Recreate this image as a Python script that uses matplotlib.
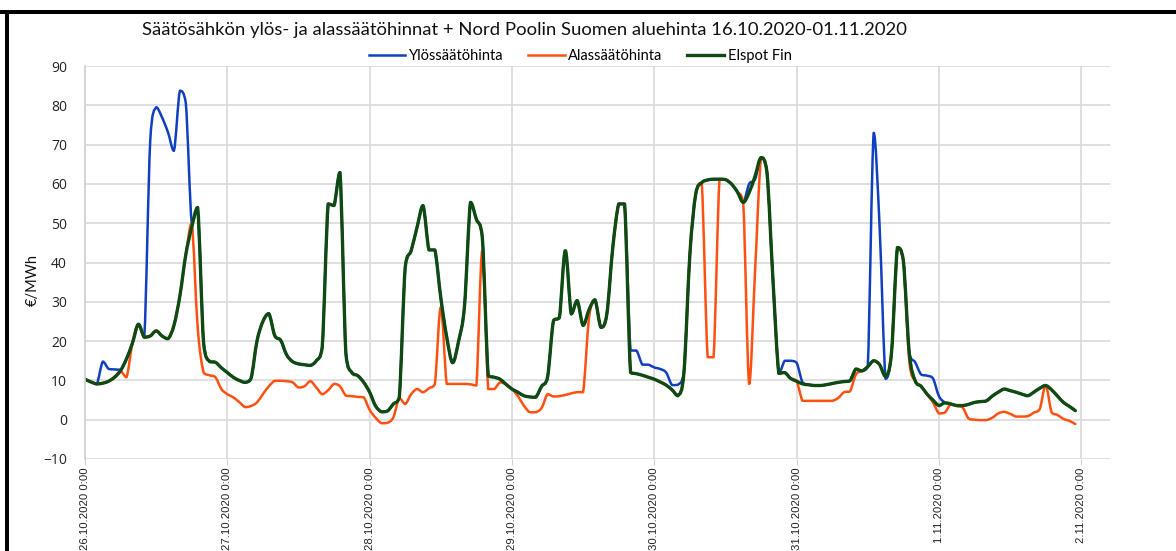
import numpy as np
import matplotlib
matplotlib.use("Agg")
import matplotlib.pyplot as plt
from matplotlib.patches import Rectangle, PathPatch
from matplotlib.path import Path
from matplotlib.lines import Line2D

# hourly prices 26.10.2020 0:00 -> 1.11.2020 23:00 (EUR/MWh)
ylos = [
    10.3, 9.6, 9.1, 14.8, 12.9, 12.8, 12.7, 15.5, 19.5, 24.3, 21.0, 71.0, 79.5, 76.9, 73.1, 68.4, 83.7, 80.6, 50.0, 54.0, 19.5, 14.8, 14.6, 13.2,
    12.0, 10.8, 10.0, 9.5, 10.5, 20.0, 25.0, 27.0, 21.4, 20.2, 16.5, 14.8, 14.2, 14.0, 13.8, 15.0, 18.4, 54.9, 54.5, 62.9, 16.7, 12.0, 11.2, 9.5,
    7.0, 3.5, 2.0, 2.2, 4.0, 5.7, 38.8, 43.0, 49.0, 54.5, 43.2, 43.2, 31.0, 21.0, 14.5, 20.0, 29.0, 55.3, 51.0, 46.4, 11.2, 10.8, 10.3, 9.0,
    7.8, 7.0, 6.1, 5.8, 5.7, 8.5, 10.8, 25.2, 26.0, 43.0, 26.9, 30.3, 24.0, 28.0, 30.5, 23.5, 26.9, 43.8, 54.9, 54.9, 17.6, 17.6, 14.0, 14.0,
    13.3, 12.9, 12.0, 8.8, 8.9, 12.0, 42.0, 57.5, 60.3, 61.0, 61.2, 61.2, 61.1, 60.0, 58.0, 55.3, 60.0, 61.2, 66.7, 63.0, 36.0, 11.8, 15.0, 15.0,
    14.5, 9.5, 8.9, 8.7, 8.7, 8.9, 9.2, 9.5, 9.7, 9.9, 12.9, 12.4, 13.5, 73.0, 49.0, 10.4, 17.0, 43.8, 40.5, 17.0, 14.6, 11.5, 11.2, 10.5,
    6.0, 4.4, 4.0, 3.6, 3.6, 3.9, 4.4, 4.6, 4.8, 6.0, 7.0, 7.8, 7.4, 7.0, 6.5, 6.1, 7.0, 8.0, 8.7, 7.6, 6.0, 4.4, 3.4, 2.3,
]
alas = [
    10.3, 9.6, 9.1, 9.3, 9.8, 11.0, 12.3, 10.8, 19.5, 24.3, 21.0, 21.3, 22.6, 21.3, 20.6, 24.0, 31.5, 42.0, 50.0, 23.5, 12.0, 11.3, 10.8, 7.8,
    6.5, 5.7, 4.5, 3.2, 3.5, 4.4, 6.5, 8.5, 9.9, 9.9, 9.8, 9.5, 8.2, 8.5, 9.8, 8.2, 6.5, 7.5, 9.1, 8.5, 6.1, 6.0, 5.8, 5.7,
    2.5, 0.5, -0.9, -0.8, 0.6, 5.5, 4.0, 6.5, 7.8, 7.0, 8.0, 9.1, 28.6, 9.1, 9.1, 9.1, 9.1, 9.0, 8.7, 43.0, 7.8, 7.8, 9.5, 9.0,
    7.8, 6.0, 3.6, 1.9, 1.9, 3.0, 6.5, 5.9, 6.0, 6.3, 6.7, 7.0, 7.0, 26.0, 30.5, 23.5, 26.9, 43.8, 54.9, 54.9, 12.0, 11.7, 11.3, 10.8,
    10.3, 9.6, 8.8, 7.6, 6.1, 12.0, 42.0, 57.5, 60.3, 15.9, 15.9, 61.2, 61.1, 60.0, 58.0, 55.3, 9.1, 38.0, 66.7, 63.0, 36.0, 11.8, 12.0, 10.5,
    9.8, 4.8, 4.8, 4.8, 4.8, 4.8, 4.8, 5.5, 7.0, 7.2, 11.5, 12.4, 13.5, 15.0, 14.0, 11.0, 17.0, 43.8, 40.5, 15.0, 9.9, 8.5, 6.5, 4.4,
    1.6, 1.8, 4.0, 3.5, 3.1, 0.3, 0.0, -0.1, -0.1, 0.5, 1.6, 2.0, 1.5, 0.8, 0.8, 0.9, 1.8, 2.7, 8.7, 1.9, 1.2, 0.2, -0.3, -1.1,
]
elspot = [
    10.3, 9.6, 9.1, 9.3, 9.8, 10.8, 12.5, 15.5, 19.5, 24.3, 21.0, 21.3, 22.6, 21.3, 20.6, 24.0, 31.5, 42.0, 49.0, 54.0, 19.5, 14.8, 14.6, 13.2,
    12.0, 10.8, 10.0, 9.5, 10.5, 20.0, 25.0, 27.0, 21.4, 20.2, 16.5, 14.8, 14.2, 14.0, 13.8, 15.0, 18.4, 54.9, 54.5, 62.9, 16.7, 12.0, 11.2, 9.5,
    7.0, 3.5, 2.0, 2.2, 4.0, 5.7, 38.8, 43.0, 49.0, 54.5, 43.2, 43.2, 31.0, 21.0, 14.5, 20.0, 29.0, 55.3, 51.0, 46.4, 11.2, 10.8, 10.3, 9.0,
    7.8, 7.0, 6.1, 5.8, 5.7, 8.5, 10.8, 25.2, 26.0, 43.0, 26.9, 30.3, 24.0, 28.0, 30.5, 23.5, 26.9, 43.8, 54.9, 54.9, 12.0, 11.7, 11.3, 10.8,
    10.3, 9.6, 8.8, 7.6, 6.1, 12.0, 42.0, 57.5, 60.3, 61.0, 61.2, 61.2, 61.1, 60.0, 58.0, 55.3, 57.8, 62.0, 66.7, 63.0, 36.0, 11.8, 12.0, 10.5,
    9.8, 9.1, 8.9, 8.7, 8.7, 8.9, 9.2, 9.5, 9.7, 9.9, 12.9, 12.4, 13.5, 15.0, 14.0, 11.0, 17.0, 43.8, 40.5, 17.0, 9.9, 8.5, 6.5, 5.0,
    3.6, 4.3, 4.0, 3.6, 3.6, 3.9, 4.4, 4.6, 4.8, 6.0, 7.0, 7.8, 7.4, 7.0, 6.5, 6.1, 7.0, 8.0, 8.7, 7.6, 6.0, 4.4, 3.4, 2.3,
]
day_labels = ["26.10.2020 0:00", "27.10.2020 0:00", "28.10.2020 0:00", "29.10.2020 0:00",
              "30.10.2020 0:00", "31.10.2020 0:00", "1.11.2020 0:00", "2.11.2020 0:00"]

hours = np.arange(len(elspot))


def smooth_line(ax, x, y, color, lw):
    # smoothed line: bezier segments through every data point,
    # control points kept inside each segment so it doesn't overshoot
    pts = np.column_stack([x, y]).astype(float)
    n = len(pts)
    verts = [pts[0]]
    codes = [Path.MOVETO]
    for i in range(n - 1):
        p0 = pts[max(i - 1, 0)]
        p1 = pts[i]
        p2 = pts[i + 1]
        p3 = pts[min(i + 2, n - 1)]
        c1 = p1 + (p2 - p0) / 6
        c2 = p2 - (p3 - p1) / 6
        lo, hi = min(p1[1], p2[1]), max(p1[1], p2[1])
        c1[1] = np.clip(c1[1], lo, hi)
        c2[1] = np.clip(c2[1], lo, hi)
        verts += [c1, c2, p2]
        codes += [Path.CURVE4] * 3
    ax.add_patch(PathPatch(Path(verts, codes), facecolor="none", edgecolor=color,
                           lw=lw, joinstyle="round", capstyle="round"))
    return Line2D([], [], color=color, lw=lw)


fig = plt.figure(figsize=(11.76, 5.51), dpi=100)
ax = fig.add_axes([85 / 1176, 1 - 459 / 551, 1025 / 1176, 393 / 551])

h1 = smooth_line(ax, hours, ylos, "#1040c0", 1.8)
h2 = smooth_line(ax, hours, alas, "#ff5010", 1.8)
h3 = smooth_line(ax, hours, elspot, "#0e4a12", 2.4)

ax.set_xlim(0, 1025 / 5.93)
ax.set_ylim(-10, 90)
ax.set_yticks(range(-10, 91, 10))
ax.set_xticks(np.arange(0, 169, 24))
ax.set_xticklabels(day_labels, rotation=90, fontsize=8.2, family="Liberation Sans")
ax.tick_params(axis="y", length=0, pad=13, labelsize=10, labelcolor="#222222")
ax.tick_params(axis="x", length=4, color="#d0d0d0", pad=2, labelcolor="#222222")
for lab in ax.get_yticklabels():
    lab.set_family("Open Sans")

ax.grid(True, color="#d9d9d9", lw=1.2)
ax.set_axisbelow(True)
for s in ["top", "right", "bottom"]:
    ax.spines[s].set_visible(False)
ax.spines["left"].set_color("#d0d0d0")
ax.spines["left"].set_linewidth(1.2)

ax.legend([h1, h2, h3], ["Ylössäätöhinta", "Alassäätöhinta", "Elspot Fin"],
          loc="lower center", bbox_to_anchor=(0.483, 0.99), ncol=3, frameon=False,
          prop={"family": "Lato", "size": 10.5}, handlelength=2.5, columnspacing=1.7,
          handletextpad=0.25, borderaxespad=0.1)

fig.text(524 / 1176, 1 - 30 / 551, "Säätösähkön ylös- ja alassäätöhinnat + Nord Poolin Suomen aluehinta 16.10.2020-01.11.2020",
         ha="center", va="center", fontsize=13.3, family="Lato", color="#111111")
fig.text(33 / 1176, 1 - 280 / 551, "€/MWh", rotation=90, ha="center", va="center",
         fontsize=10.5, family="Lato", color="#111111")

# black frame pieces at top and left edge
fig.add_artist(Rectangle((0, 1 - 14 / 551), 1, 4 / 551, transform=fig.transFigure, color="black", lw=0))
fig.add_artist(Rectangle((5 / 1176, 0), 4 / 1176, 1 - 10 / 551, transform=fig.transFigure, color="black", lw=0))

fig.savefig("out.png", dpi=100)
